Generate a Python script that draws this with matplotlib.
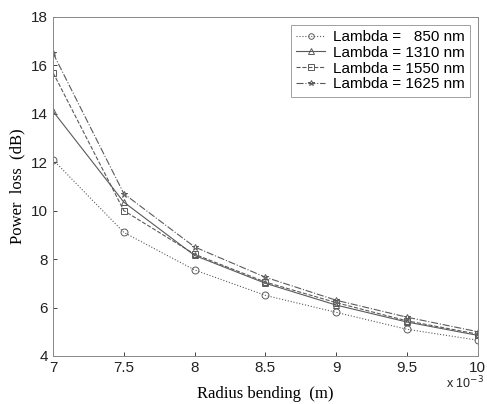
import matplotlib
matplotlib.use("Agg")
import matplotlib.pyplot as plt

# Bending radius (x 10^-3 m) and power loss (dB) per wavelength
radius = [7, 7.5, 8, 8.5, 9, 9.5, 10]
loss_850 = [12.1, 9.1, 7.55, 6.5, 5.8, 5.1, 4.65]
loss_1310 = [14.1, 10.35, 8.15, 7.0, 6.1, 5.4, 4.85]
loss_1550 = [15.7, 10.0, 8.2, 7.05, 6.2, 5.45, 4.9]
loss_1625 = [16.5, 10.7, 8.5, 7.25, 6.3, 5.6, 5.0]
labels = ["Lambda =   850 nm", "Lambda = 1310 nm", "Lambda = 1550 nm", "Lambda = 1625 nm"]
xticks = [7, 7.5, 8, 8.5, 9, 9.5, 10]
yticks = [4, 6, 8, 10, 12, 14, 16, 18]

fig = plt.figure(figsize=(4.87, 4.04), dpi=100)
ax = fig.add_axes([0.109, 0.119, 0.872, 0.839])

col = "#5a5a5a"
series = [loss_850, loss_1310, loss_1550, loss_1625]
styles = [(":", "o"), ("-", "^"), ("--", "s"), ("-.", "*")]
for vals, (ls, mk), lab in zip(series, styles, labels):
    ax.plot(radius, vals, linestyle=ls, marker=mk, color=col, lw=0.8,
            markersize=5, markerfacecolor="none", markeredgewidth=0.7, label=lab)

ax.set_xlim(7, 10)
ax.set_ylim(4, 18)
ax.set_xticks(xticks)
ax.set_xticklabels([f"{t:g}" for t in xticks])
ax.set_yticks(yticks)
ax.tick_params(direction="in", length=3, labelsize=11, colors="#222222", width=0.6)
for lbl in ax.get_xticklabels() + ax.get_yticklabels():
    lbl.set_family("Liberation Sans")
for s in ax.spines.values():
    s.set_color("#888888")
    s.set_linewidth(0.7)

ax.set_xlabel("Radius bending  (m)", family="Liberation Serif", fontsize=12, labelpad=8)
ax.set_ylabel("Power  loss  (dB)", family="Liberation Serif", fontsize=12, labelpad=4)
fig.text(0.915, 0.038, r"x 10$^{-3}$", family="Liberation Sans", fontsize=9, color="#222222")

leg = ax.legend(loc="upper right", bbox_to_anchor=(1.0, 1.0), prop={"family": "Liberation Sans", "size": 11},
                frameon=True, fancybox=False, handlelength=1.9, handletextpad=0.5,
                borderpad=0.35, labelspacing=0.12, markerscale=0.8)
leg.get_frame().set_edgecolor("#888888")
leg.get_frame().set_linewidth(0.7)

fig.savefig("out.png", dpi=100)
